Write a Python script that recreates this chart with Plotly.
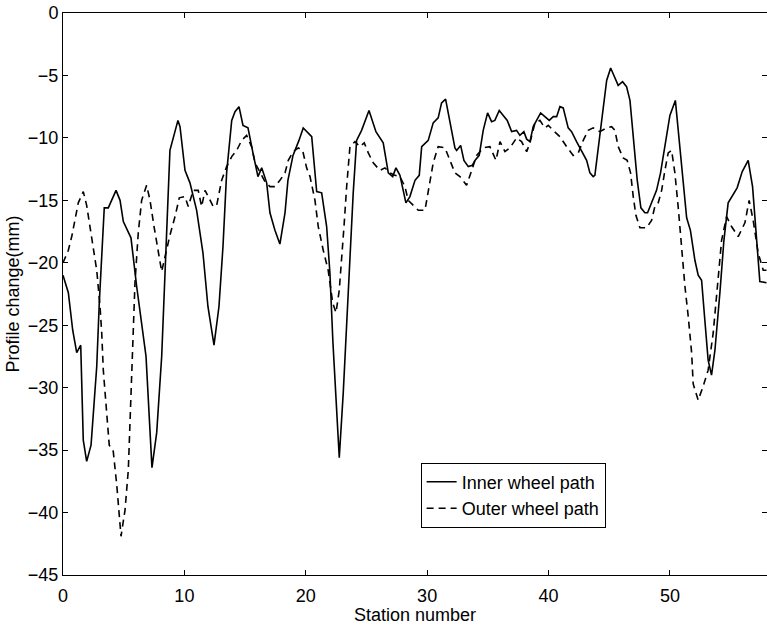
import plotly.graph_objects as go

# Profile change along the test section, inner and outer wheel paths
inner_station = [0.00, 0.44, 0.80, 1.13, 1.46, 1.67, 1.95, 2.31, 2.78, 2.99, 3.40, 3.73, 4.37, 4.70,
                 4.97, 5.60, 6.07, 6.84, 7.33, 7.72, 8.13, 8.54, 8.81, 9.47, 9.64, 10.05, 10.46,
                 11.01, 11.53, 11.94, 12.44, 12.85, 13.18, 13.48, 13.90, 14.17, 14.50, 14.83, 15.24,
                 15.65, 16.06, 16.37, 16.78, 17.05, 17.46, 17.87, 18.29, 18.53, 18.95, 19.44, 19.79,
                 20.49, 20.90, 21.31, 21.72, 21.99, 22.24, 22.76, 23.09, 23.50, 23.91, 24.19, 24.60,
                 25.21, 25.78, 26.38, 26.80, 27.16, 27.43, 27.76, 28.25, 28.58, 29.00, 29.35, 29.55,
                 30.09, 30.50, 30.91, 31.19, 31.52, 31.88, 32.29, 32.43, 32.76, 33.03, 33.39, 33.72,
                 33.94, 34.29, 34.62, 34.98, 35.31, 35.58, 35.94, 36.27, 36.60, 36.96, 37.37, 37.64,
                 37.97, 38.20, 38.47, 38.74, 39.02, 39.35, 39.70, 40.06, 40.39, 40.67, 40.94, 41.21,
                 41.62, 41.90, 42.31, 42.73, 43.14, 43.41, 43.68, 43.82, 44.18, 44.51, 44.79, 45.12,
                 45.47, 45.74, 46.10, 46.43, 46.71, 46.98, 47.31, 47.61, 47.94, 48.16, 48.49, 48.90,
                 49.23, 49.59, 50.00, 50.45, 50.85, 51.38, 51.69, 52.06, 52.33, 52.61, 52.88, 53.15,
                 53.43, 53.71, 54.12, 54.45, 54.80, 55.08, 55.54, 55.96, 56.45, 56.81, 57.08, 57.41,
                 57.96]
inner_change = [-21.0, -22.4, -25.4, -27.2, -26.6, -34.2, -35.9, -34.6, -28.3, -23.2, -15.6, -15.6,
                -14.2, -15.0, -16.7, -18.0, -21.9, -27.5, -36.4, -33.6, -27.5, -17.6, -11.0, -8.6,
                -9.1, -12.6, -13.6, -15.8, -19.2, -23.5, -26.6, -23.5, -18.7, -12.8, -8.6, -7.9,
                -7.5, -9.0, -9.2, -11.2, -13.1, -12.4, -13.6, -16.0, -17.4, -18.5, -16.0, -13.4,
                -11.4, -10.2, -9.2, -9.9, -14.3, -14.4, -17.1, -20.8, -26.4, -35.6, -30.4, -22.4,
                -14.4, -10.2, -9.4, -7.8, -9.5, -10.4, -12.8, -13.1, -12.4, -13.0, -15.2, -14.7,
                -13.4, -13.0, -10.7, -10.2, -8.8, -8.4, -7.2, -6.9, -8.6, -10.8, -11.0, -10.6,
                -11.8, -12.3, -12.2, -11.8, -11.4, -9.4, -8.0, -8.7, -8.6, -7.8, -8.2, -8.6, -9.5,
                -9.4, -9.8, -9.5, -10.1, -10.3, -9.1, -8.6, -8.0, -8.3, -8.6, -8.3, -8.3, -7.5,
                -7.6, -9.2, -9.5, -10.3, -11.0, -11.8, -12.8, -13.1, -13.0, -10.2, -7.5, -5.4,
                -4.4, -5.2, -5.8, -5.5, -5.9, -7.0, -10.2, -13.4, -15.6, -16.0, -16.0, -15.2,
                -14.2, -12.8, -10.7, -8.2, -7.0, -11.0, -16.4, -17.4, -19.8, -21.0, -21.4, -24.6,
                -27.8, -29.0, -27.0, -22.4, -18.2, -15.2, -14.7, -14.0, -12.7, -11.8, -13.9, -17.6,
                -21.5, -21.6]

outer_station = [0.00, 0.44, 0.72, 0.99, 1.26, 1.67, 1.95, 2.22, 2.50, 2.78, 3.05, 3.19, 3.32, 3.60,
                 3.81, 4.14, 4.42, 4.78, 5.11, 5.38, 5.58, 5.74, 5.93, 6.20, 6.48, 6.89, 7.17, 7.50,
                 7.85, 8.13, 8.48, 8.81, 9.23, 9.58, 10.05, 10.32, 10.73, 11.14, 11.42, 11.70, 11.97,
                 12.38, 12.66, 13.07, 13.48, 13.90, 14.31, 14.72, 15.13, 15.54, 15.82, 16.23, 16.64,
                 17.05, 17.46, 17.87, 18.29, 18.56, 18.97, 19.38, 19.74, 20.07, 20.35, 20.76, 21.03,
                 21.44, 21.85, 22.22, 22.49, 22.76, 22.96, 23.15, 23.37, 23.64, 24.05, 24.46, 24.82,
                 25.15, 25.56, 26.11, 26.52, 26.94, 27.35, 27.76, 28.17, 28.44, 28.86, 29.27, 29.82,
                 30.23, 30.50, 30.91, 31.47, 31.88, 32.29, 32.70, 33.25, 33.67, 34.08, 34.62, 35.17,
                 35.67, 36.00, 36.41, 36.82, 37.37, 37.78, 38.20, 38.47, 38.88, 39.29, 39.70, 39.98,
                 40.39, 40.94, 41.49, 42.03, 42.45, 42.86, 43.27, 43.68, 44.23, 44.79, 45.20, 45.47,
                 45.74, 46.15, 46.48, 46.76, 46.98, 47.20, 47.53, 48.08, 48.49, 48.76, 49.04, 49.32,
                 49.59, 49.86, 50.14, 50.41, 50.68, 50.96, 51.24, 51.51, 51.79, 51.92, 52.33, 52.74,
                 53.15, 53.57, 53.98, 54.26, 54.67, 55.08, 55.63, 56.18, 56.53, 56.86, 57.27, 57.69,
                 57.96]
outer_change = [-20.0, -19.0, -17.9, -16.6, -15.2, -14.3, -15.4, -17.1, -18.7, -20.6, -23.5, -25.6,
                -28.6, -32.3, -34.6, -35.1, -37.7, -41.9, -39.8, -36.6, -31.2, -25.9, -21.6, -17.6,
                -15.0, -13.8, -15.0, -17.1, -19.2, -20.7, -19.2, -17.8, -16.3, -14.8, -14.7, -15.5,
                -14.2, -14.2, -15.5, -14.2, -14.7, -15.5, -15.4, -13.4, -12.3, -11.5, -11.0, -10.2,
                -9.8, -10.7, -12.0, -12.8, -13.5, -13.9, -13.9, -13.4, -12.8, -11.8, -11.1, -10.8,
                -11.0, -12.4, -13.1, -15.0, -17.1, -19.0, -20.6, -23.2, -24.0, -22.2, -19.8, -17.1,
                -13.9, -10.7, -10.3, -10.7, -10.4, -11.2, -12.0, -12.6, -12.4, -12.8, -13.0, -13.1,
                -13.9, -15.0, -15.4, -15.8, -15.8, -13.6, -12.0, -10.7, -10.8, -11.8, -12.8, -13.1,
                -13.8, -12.6, -11.4, -10.8, -10.7, -11.8, -10.3, -11.1, -10.8, -10.0, -10.3, -11.1,
                -10.4, -8.8, -8.6, -9.2, -9.0, -9.4, -9.9, -10.7, -11.4, -11.2, -10.2, -9.4, -9.2,
                -9.5, -9.2, -9.1, -9.4, -10.7, -11.6, -11.8, -12.8, -14.7, -16.2, -17.2, -17.2,
                -16.6, -15.5, -15.2, -14.2, -12.6, -11.2, -11.0, -12.8, -15.5, -19.0, -21.9, -24.3,
                -27.2, -29.7, -31.0, -29.9, -28.6, -25.6, -21.4, -18.2, -16.3, -17.1, -17.9, -16.8,
                -15.0, -16.6, -19.2, -20.6, -20.6]

x_ticks = [0, 10, 20, 30, 40, 50]
y_ticks = [0, -5, -10, -15, -20, -25, -30, -35, -40, -45]

font_family = "Liberation Sans, Arial, Helvetica, sans-serif"
text_font = dict(family=font_family, size=18, color="black")

fig = go.Figure()
fig.add_trace(go.Scatter(
    x=inner_station, y=inner_change, mode="lines", name="Inner wheel path",
    line=dict(color="black", width=1.6),
))
fig.add_trace(go.Scatter(
    x=outer_station, y=outer_change, mode="lines", name="Outer wheel path",
    line=dict(color="black", width=1.6, dash="7px,5px"),
))

axis_common = dict(
    showgrid=False, zeroline=False, showline=True, linecolor="black", linewidth=1,
    mirror="ticks", ticks="inside", ticklen=5, tickcolor="black", tickwidth=1,
    tickfont=text_font, automargin=False,
)

fig.update_xaxes(
    range=[0, 58.0], tickvals=x_ticks, ticklabelstandoff=4,
    title=dict(text="Station number", font=text_font, standoff=2),
    **axis_common,
)
fig.update_yaxes(
    range=[-45, 0], tickvals=y_ticks, ticklabelstandoff=0,
    title=dict(text="Profile change(mm)", font=text_font, standoff=3),
    **axis_common,
)

fig.update_layout(
    width=767, height=625,
    margin=dict(l=63, r=0, t=13, b=50),
    paper_bgcolor="white", plot_bgcolor="white",
    font=text_font,
    showlegend=True,
    legend=dict(
        x=0.508, y=0.2, xanchor="left", yanchor="top",
        bgcolor="white", bordercolor="black", borderwidth=1,
        font=text_font, tracegroupgap=0, itemwidth=30,
    ),
)

fig.write_html("out.html")
